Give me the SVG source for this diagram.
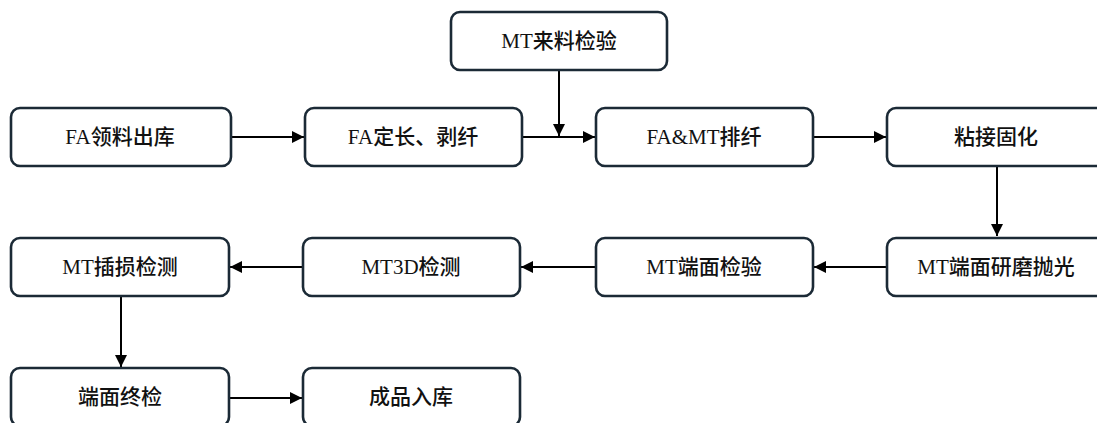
<svg xmlns="http://www.w3.org/2000/svg" width="1097" height="423" viewBox="0 0 1097 423">
  <style>
    .box { fill: #ffffff; stroke: #1b2a36; stroke-width: 2.6; }
    .lbl { font-family: "Liberation Serif", "Noto Sans CJK SC", serif; font-size: 21px; font-weight: 500; fill: #111111; text-anchor: middle; dominant-baseline: central; }
    .conn { fill: none; stroke: #000000; stroke-width: 2; }
  </style>
  <defs>
    <marker id="arr" viewBox="0 0 10 10" refX="10" refY="5" markerWidth="6" markerHeight="6" markerUnits="strokeWidth" orient="auto">
      <path d="M0,0 L10,5 L0,10 z" fill="#000000"/>
    </marker>
  </defs>
  <rect width="1097" height="423" fill="#ffffff"/>

  <g id="connectors">
    <path class="conn" d="M231,137 L304,137" marker-end="url(#arr)"/>
    <path class="conn" d="M522,137 L595,137" marker-end="url(#arr)"/>
    <path class="conn" d="M559,70 L559,136" marker-end="url(#arr)"/>
    <path class="conn" d="M813,137 L886,137" marker-end="url(#arr)"/>
    <path class="conn" d="M997,166 L997,236" marker-end="url(#arr)"/>
    <path class="conn" d="M887,267 L814,267" marker-end="url(#arr)"/>
    <path class="conn" d="M596,267 L521,267" marker-end="url(#arr)"/>
    <path class="conn" d="M303,267 L230,267" marker-end="url(#arr)"/>
    <path class="conn" d="M121,296 L121,367" marker-end="url(#arr)"/>
    <path class="conn" d="M229,398 L302,398" marker-end="url(#arr)"/>
  </g>

  <g id="n-mt-incoming">
    <rect class="box" x="451" y="12" width="216" height="58" rx="9"/>
    <text class="lbl" x="559" y="41">MT来料检验</text>
  </g>
  <g id="n-fa-pick">
    <rect class="box" x="11" y="108" width="220" height="58" rx="9"/>
    <text class="lbl" x="120" y="137">FA领料出库</text>
  </g>
  <g id="n-fa-cut">
    <rect class="box" x="305" y="108" width="217" height="58" rx="9"/>
    <text class="lbl" x="413" y="137">FA定长、剥纤</text>
  </g>
  <g id="n-famt">
    <rect class="box" x="596" y="108" width="217" height="58" rx="9"/>
    <text class="lbl" x="704" y="137">FA&amp;MT排纤</text>
  </g>
  <g id="n-glue">
    <rect class="box" x="887" y="108" width="218" height="58" rx="9"/>
    <text class="lbl" x="996" y="137">粘接固化</text>
  </g>
  <g id="n-polish">
    <rect class="box" x="887" y="238" width="218" height="58" rx="9"/>
    <text class="lbl" x="996" y="267">MT端面研磨抛光</text>
  </g>
  <g id="n-face-insp">
    <rect class="box" x="596" y="238" width="217" height="58" rx="9"/>
    <text class="lbl" x="704" y="267">MT端面检验</text>
  </g>
  <g id="n-3d">
    <rect class="box" x="303" y="238" width="217" height="58" rx="9"/>
    <text class="lbl" x="411" y="267">MT3D检测</text>
  </g>
  <g id="n-il">
    <rect class="box" x="11" y="238" width="218" height="58" rx="9"/>
    <text class="lbl" x="120" y="267">MT插损检测</text>
  </g>
  <g id="n-final">
    <rect class="box" x="11" y="368" width="218" height="58" rx="9"/>
    <text class="lbl" x="120" y="397">端面终检</text>
  </g>
  <g id="n-store">
    <rect class="box" x="303" y="368" width="217" height="58" rx="9"/>
    <text class="lbl" x="411" y="397">成品入库</text>
  </g>
</svg>
